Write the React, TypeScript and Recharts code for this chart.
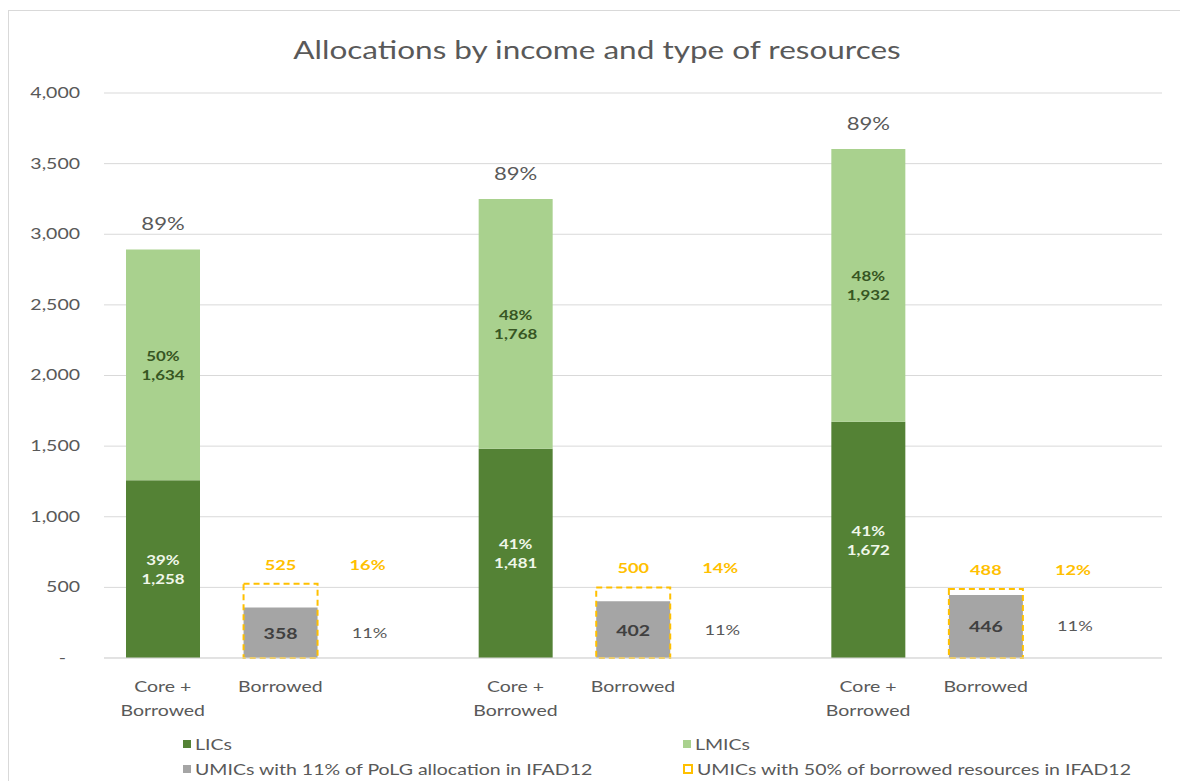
import React from "react";
import {
  ComposedChart,
  Bar,
  XAxis,
  YAxis,
  CartesianGrid,
  Legend,
  LabelList,
} from "recharts";

// Values (USD million)
const categories = ["Core +\nBorrowed", "Borrowed", ""];
const groupCount = 3;
const lics = [1258, 1481, 1672];
const licsPct = ["39%", "41%", "41%"];
const lmics = [1634, 1768, 1932];
const lmicsPct = ["50%", "48%", "48%"];
const totalPct = ["89%", "89%", "89%"];
const umics11 = [358, 402, 446];
const umics11Pct = ["11%", "11%", "11%"];
const umics50 = [525, 500, 488];
const umics50Pct = ["16%", "14%", "12%"];
const yTicks = [0, 500, 1000, 1500, 2000, 2500, 3000, 3500, 4000];

const fmt = (v: number) => v.toLocaleString("en-US");

const rows: any[] = [];
for (let i = 0; i < groupCount; i++) {
  rows.push({
    cat: categories[0],
    lics: lics[i],
    lmics: lmics[i],
    licsLabel: `${licsPct[i]}\n${fmt(lics[i])}`,
    lmicsLabel: `${lmicsPct[i]}\n${fmt(lmics[i])}`,
    totalPct: totalPct[i],
  });
  rows.push({
    cat: categories[1],
    umic11: umics11[i],
    umic50: umics50[i],
    umic11Pct: umics11Pct[i],
    umic50Pct: umics50Pct[i],
  });
  rows.push({ cat: categories[2] });
}

const FONT = "Lato, 'Open Sans', sans-serif";
const TEXT = "#595959";
const DARK_GREEN = "#548235";
const LIGHT_GREEN = "#A9D18E";
const GRAY = "#A5A5A5";
const YELLOW = "#FFC000";
// the source picture is stretched sideways, so text is widened to match
const SX = 1.3;

const stretch = (x: number) => `translate(${x} 0) scale(${SX} 1) translate(${-x} 0)`;

const box = (p: any) => p.viewBox ?? p;

const twoLine = (color: string) => (p: any) => {
  if (p.value == null) return null;
  const { x, y, width, height } = box(p);
  const [a, b] = String(p.value).split("\n");
  const cx = x + width / 2;
  const cy = y + height / 2;
  return (
    <text
      x={cx}
      y={cy}
      transform={stretch(cx)}
      textAnchor="middle"
      fill={color}
      fontFamily={FONT}
      fontSize={13}
      fontWeight={700}
    >
      <tspan x={cx} dy={-4}>{a}</tspan>
      <tspan x={cx} dy={19}>{b}</tspan>
    </text>
  );
};

const topLabel = (p: any) => {
  if (p.value == null) return null;
  const { x, y, width } = box(p);
  const cx = x + width / 2;
  return (
    <text x={cx} y={y - 19} transform={stretch(cx)} textAnchor="middle" fill={TEXT} fontFamily={FONT} fontSize={17}>
      {p.value}
    </text>
  );
};

const grayCenter = (p: any) => {
  if (p.value == null) return null;
  const { x, y, width, height } = box(p);
  const cx = x + width / 2;
  return (
    <text x={cx} y={y + height / 2 + 6} transform={stretch(cx)} textAnchor="middle" fill="#404040" fontFamily={FONT} fontSize={15} fontWeight={700}>
      {fmt(p.value)}
    </text>
  );
};

const grayRight = (p: any) => {
  if (p.value == null) return null;
  const { x, y, width, height } = box(p);
  const cx = x + width + 52;
  return (
    <text x={cx} y={y + height / 2 + 5} transform={stretch(cx)} textAnchor="middle" fill={TEXT} fontFamily={FONT} fontSize={14}>
      {p.value}
    </text>
  );
};

const yellowTop = (p: any) => {
  if (p.value == null) return null;
  const { x, y, width } = box(p);
  const cx = x + width / 2;
  return (
    <text x={cx} y={y - 14} transform={stretch(cx)} textAnchor="middle" fill={YELLOW} fontFamily={FONT} fontSize={14} fontWeight={700}>
      {fmt(p.value)}
    </text>
  );
};

const yellowRight = (p: any) => {
  if (p.value == null) return null;
  const { x, y, width } = box(p);
  const cx = x + width + 50;
  return (
    <text x={cx} y={y - 14} transform={stretch(cx)} textAnchor="middle" fill={YELLOW} fontFamily={FONT} fontSize={14} fontWeight={700}>
      {p.value}
    </text>
  );
};

const XTick = (props: any) => {
  const { x, y, payload } = props;
  const lines = String(payload.value).split("\n");
  return (
    <text x={x} y={y} transform={stretch(x)} textAnchor="middle" fill={TEXT} fontFamily={FONT} fontSize={15}>
      {lines.map((l, i) => (
        <tspan key={i} x={x} dy={i === 0 ? 26 : 24}>
          {l}
        </tspan>
      ))}
    </text>
  );
};

const YTick = (props: any) => {
  const { x, y, payload } = props;
  const v = payload.value;
  const tx = v === 0 ? x - 14 : x;
  return (
    <text x={tx} y={y + 5} transform={stretch(tx)} textAnchor="end" fill={TEXT} fontFamily={FONT} fontSize={15}>
      {v === 0 ? "-" : fmt(v)}
    </text>
  );
};

const legendItems = [
  { label: "LICs", color: DARK_GREEN, left: 174, top: 14, outline: false },
  { label: "LMICs", color: LIGHT_GREEN, left: 674, top: 14, outline: false },
  { label: "UMICs with 11% of PoLG allocation in IFAD12", color: GRAY, left: 174, top: 39, outline: false },
  { label: "UMICs with 50% of borrowed resources in IFAD12", color: YELLOW, left: 674, top: 39, outline: true },
];

const LegendContent = () => (
  <div style={{ position: "relative", height: 55, fontFamily: FONT, fontSize: 15, color: TEXT }}>
    {legendItems.map((it) => (
      <div
        key={it.label}
        style={{ position: "absolute", left: it.left, top: it.top, display: "flex", alignItems: "center", whiteSpace: "nowrap" }}
      >
        <span
          style={{
            display: "inline-block",
            width: it.outline ? 6 : 8,
            height: it.outline ? 6 : 8,
            marginRight: 4,
            background: it.outline ? "#fff" : it.color,
            border: it.outline ? `2px solid ${it.color}` : "none",
          }}
        />
        <span style={{ display: "inline-block", transform: `scaleX(${SX})`, transformOrigin: "left center" }}>
          {it.label}
        </span>
      </div>
    ))}
  </div>
);

export default function App() {
  return (
    <div
      style={{
        position: "relative",
        marginTop: 2,
        width: 1176,
        height: 772,
        border: "1px solid #D9D9D9",
        background: "#fff",
      }}
    >
      <div
        style={{
          position: "absolute",
          top: 23,
          left: 0,
          width: 1176,
          textAlign: "center",
          fontFamily: FONT,
          fontSize: 25,
          color: TEXT,
          zIndex: 1,
          transform: "scaleX(1.26)",
          transformOrigin: "center",
        }}
      >
        Allocations by income and type of resources
      </div>
      <ComposedChart
        width={1176}
        height={770}
        data={rows}
        margin={{ top: 82, right: 23, bottom: 5, left: 0 }}
      >
        <CartesianGrid vertical={false} stroke="#D9D9D9" />
        <XAxis
          dataKey="cat"
          tick={<XTick />}
          tickLine={false}
          axisLine={{ stroke: "#D9D9D9" }}
          height={63}
          interval={0}
        />
        <XAxis xAxisId="b" dataKey="cat" hide />
        <YAxis
          domain={[0, 4000]}
          ticks={yTicks}
          width={95}
          tick={<YTick />}
          tickLine={false}
          axisLine={false}
          tickMargin={18}
        />
        <Legend verticalAlign="bottom" height={55} content={<LegendContent />} />
        <Bar dataKey="lics" stackId="a" fill={DARK_GREEN} barSize={74} isAnimationActive={false}>
          <LabelList dataKey="licsLabel" content={twoLine("#F0F7EA")} />
        </Bar>
        <Bar dataKey="lmics" stackId="a" fill={LIGHT_GREEN} barSize={74} isAnimationActive={false}>
          <LabelList dataKey="lmicsLabel" content={twoLine("#375623")} />
          <LabelList dataKey="totalPct" content={topLabel} />
        </Bar>
        <Bar dataKey="umic11" stackId="a" fill={GRAY} barSize={74} isAnimationActive={false}>
          <LabelList dataKey="umic11" content={grayCenter} />
          <LabelList dataKey="umic11Pct" content={grayRight} />
        </Bar>
        <Bar
          dataKey="umic50"
          xAxisId="b"
          fill="none"
          stroke={YELLOW}
          strokeWidth={2}
          strokeDasharray="6 4"
          barSize={74}
          isAnimationActive={false}
        >
          <LabelList dataKey="umic50" content={yellowTop} />
          <LabelList dataKey="umic50Pct" content={yellowRight} />
        </Bar>
      </ComposedChart>
    </div>
  );
}
